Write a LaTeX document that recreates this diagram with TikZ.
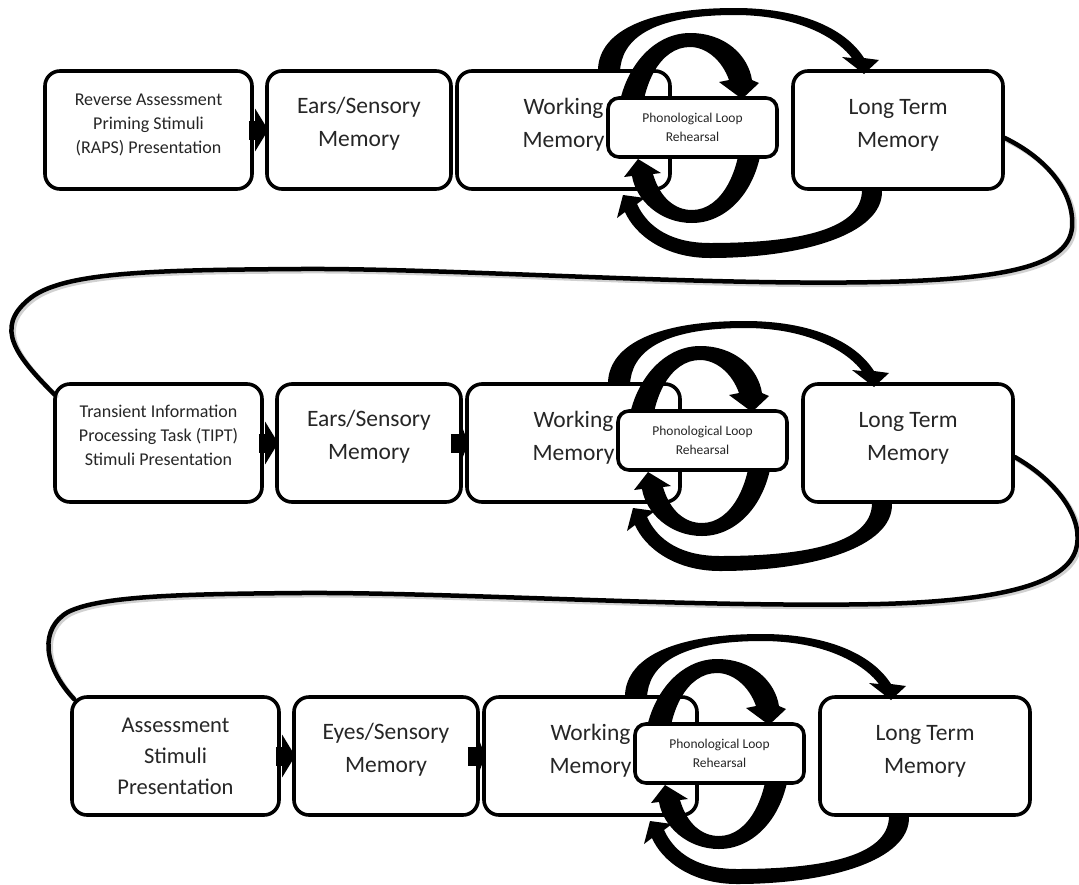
\documentclass[tikz,border=0pt]{standalone}
\usepackage{fontspec}
\setmainfont{Carlito}
\usetikzlibrary{arrows.meta}

\tikzset{
  membox/.style={draw=black, line width=3.6pt, rounded corners=15pt, fill=white,
    minimum height=118pt, inner sep=0pt},
  phonbox/.style={draw=black, line width=3.6pt, rounded corners=11pt, fill=white,
    minimum width=169pt, minimum height=59pt, inner sep=0pt},
  bigtext/.style={align=center, text=black!85, font=\fontsize{23.5}{33}\selectfont},
  smalltext/.style={align=center, text=black!85, font=\fontsize{18}{24}\selectfont},
  midtext/.style={align=center, text=black!85, font=\fontsize{22.5}{31}\selectfont},
  phontext/.style={align=center, text=black!85, font=\fontsize{13.5}{19}\selectfont},
  blockarrow/.style={line width=19pt, -{Triangle[length=13pt,width=42pt]}},
  shortarrow/.style={line width=19pt, -{Triangle[length=8pt,width=42pt]}},
  flow/.style={line width=4.5pt, line cap=round},
  flowshadow/.style={line width=5pt, line cap=round, black, opacity=0.18,
    transform canvas={xshift=2pt,yshift=-2pt}},
}

% Thick curved arrows of one row: the big transfer arcs between working and
% long term memory, and the two halves of the rehearsal loop.
\newcommand{\rehearsalarrows}{%
  \fill (598,72) .. controls (597,35) and (640,8) .. (735,8)
    .. controls (800,8) and (845,28) .. (864,58)
    -- (879,60) -- (864,74) -- (842,57) -- (852,58)
    .. controls (835,36) and (795,15) .. (735,15)
    .. controls (650,15) and (621,40) .. (620,72) -- cycle;
  \fill (882,190) .. controls (884,235) and (800,258) .. (710,258)
    .. controls (665,258) and (635,235) .. (625,212)
    -- (617,218) -- (623,195) -- (645,198) -- (637,204)
    .. controls (648,228) and (672,243) .. (710,243)
    .. controls (790,243) and (862,232) .. (862,190) -- cycle;
  \fill (617,128) .. controls (617,75) and (650,33) .. (690,33)
    .. controls (725,33) and (748,55) .. (752,80)
    -- (759,83) -- (742,99) -- (719,82) -- (729,80)
    .. controls (722,60) and (706,47) .. (690,47)
    .. controls (660,47) and (641,85) .. (641,128) -- cycle;
  \fill (763,128) .. controls (763,185) and (730,223) .. (692,223)
    .. controls (660,223) and (636,200) .. (632,176)
    -- (624,177) -- (638,159) -- (661,173) -- (653,174)
    .. controls (660,198) and (675,210) .. (692,210)
    .. controls (722,210) and (741,170) .. (741,128) -- cycle;
}

\begin{document}
\begin{tikzpicture}[x=1pt, y=-1pt]
\useasboundingbox (0,0) rectangle (1079,884);

% ---------- row 1 ----------
\begin{scope}[name prefix=r1-]
  \node[membox, minimum width=207pt] (a) at (148.5,130) {};
  \node[membox, minimum width=184pt] (b) at (359,130) {};
  \node[membox, minimum width=213pt] (c) at (563.5,130) {};
  \node[membox, minimum width=210pt] (ltm) at (898,130) {};
  \node[smalltext, yshift=5pt] (a-label) at (a) {Reverse Assessment\\Priming Stimuli\\(RAPS) Presentation};
  \node[bigtext, yshift=6pt] (b-label) at (b) {Ears/Sensory\\Memory};
  \node[bigtext, yshift=5pt] (c-label) at (c) {Working\\Memory};
  \node[bigtext, yshift=5pt] (ltm-label) at (ltm) {Long Term\\Memory};
  \draw[blockarrow] ([xshift=-5pt]a.east) -- ([xshift=3pt]b.west);
  \rehearsalarrows
  \node[phonbox] (p) at (692.5,127.5) {};
  \node[phontext] (p-label) at (p) {Phonological Loop\\Rehearsal};
\end{scope}

% ---------- row 2 ----------
\begin{scope}[shift={(10,313)}, name prefix=r2-]
  \node[membox, minimum width=207pt] (a) at (148.5,130) {};
  \node[membox, minimum width=184pt] (b) at (359,130) {};
  \node[membox, minimum width=213pt] (c) at (563.5,130) {};
  \node[membox, minimum width=210pt] (ltm) at (898,130) {};
  \node[smalltext, yshift=8pt] (a-label) at (a) {Transient Information\\Processing Task (TIPT)\\Stimuli Presentation};
  \node[bigtext, yshift=6pt] (b-label) at (b) {Ears/Sensory\\Memory};
  \node[bigtext, yshift=5pt] (c-label) at (c) {Working\\Memory};
  \node[bigtext, yshift=5pt] (ltm-label) at (ltm) {Long Term\\Memory};
  \draw[blockarrow] ([xshift=-5pt]a.east) -- ([xshift=3pt]b.west);
  \draw[shortarrow] ([xshift=-12pt]b.east) -- ([xshift=3pt]c.west);
  \rehearsalarrows
  \node[phonbox] (p) at (692.5,127.5) {};
  \node[phontext] (p-label) at (p) {Phonological Loop\\Rehearsal};
\end{scope}

% ---------- row 3 ----------
\begin{scope}[shift={(27,626)}, name prefix=r3-]
  \node[membox, minimum width=207pt] (a) at (148.5,130) {};
  \node[membox, minimum width=184pt] (b) at (359,130) {};
  \node[membox, minimum width=213pt] (c) at (563.5,130) {};
  \node[membox, minimum width=210pt] (ltm) at (898,130) {};
  \node[midtext] (a-label) at (a) {Assessment\\Stimuli\\Presentation};
  \node[bigtext, yshift=6pt] (b-label) at (b) {Eyes/Sensory\\Memory};
  \node[bigtext, yshift=5pt] (c-label) at (c) {Working\\Memory};
  \node[bigtext, yshift=5pt] (ltm-label) at (ltm) {Long Term\\Memory};
  \draw[blockarrow] ([xshift=-5pt]a.east) -- ([xshift=3pt]b.west);
  \draw[shortarrow] ([xshift=-12pt]b.east) -- ([xshift=3pt]c.west);
  \rehearsalarrows
  \node[phonbox] (p) at (692.5,127.5) {};
  \node[phontext] (p-label) at (p) {Phonological Loop\\Rehearsal};
\end{scope}

% ---------- links between rows ----------
\foreach \sty in {flowshadow, flow} {
  \draw[\sty] ([yshift=-8pt]r1-ltm.east)
    .. controls (1050,160) and (1075,195) .. (1072,228)
    .. controls (1068,262) and (1020,279) .. (880,282)
    .. controls (700,286) and (450,268) .. (300,269)
    .. controls (150,270) and (60,272) .. (28,300)
    .. controls (-5,328) and (15,355) .. ([xshift=1pt,yshift=-12pt]r2-a.north west);
  \draw[\sty] ([yshift=-14pt]r2-ltm.east)
    .. controls (1055,480) and (1082,515) .. (1077,545)
    .. controls (1072,575) and (1030,600) .. (880,604)
    .. controls (700,608) and (450,592) .. (300,593)
    .. controls (180,594) and (100,596) .. (68,612)
    .. controls (40,628) and (42,665) .. ([xshift=4pt,yshift=-4pt]r3-a.north west);
}
\end{tikzpicture}
\end{document}
